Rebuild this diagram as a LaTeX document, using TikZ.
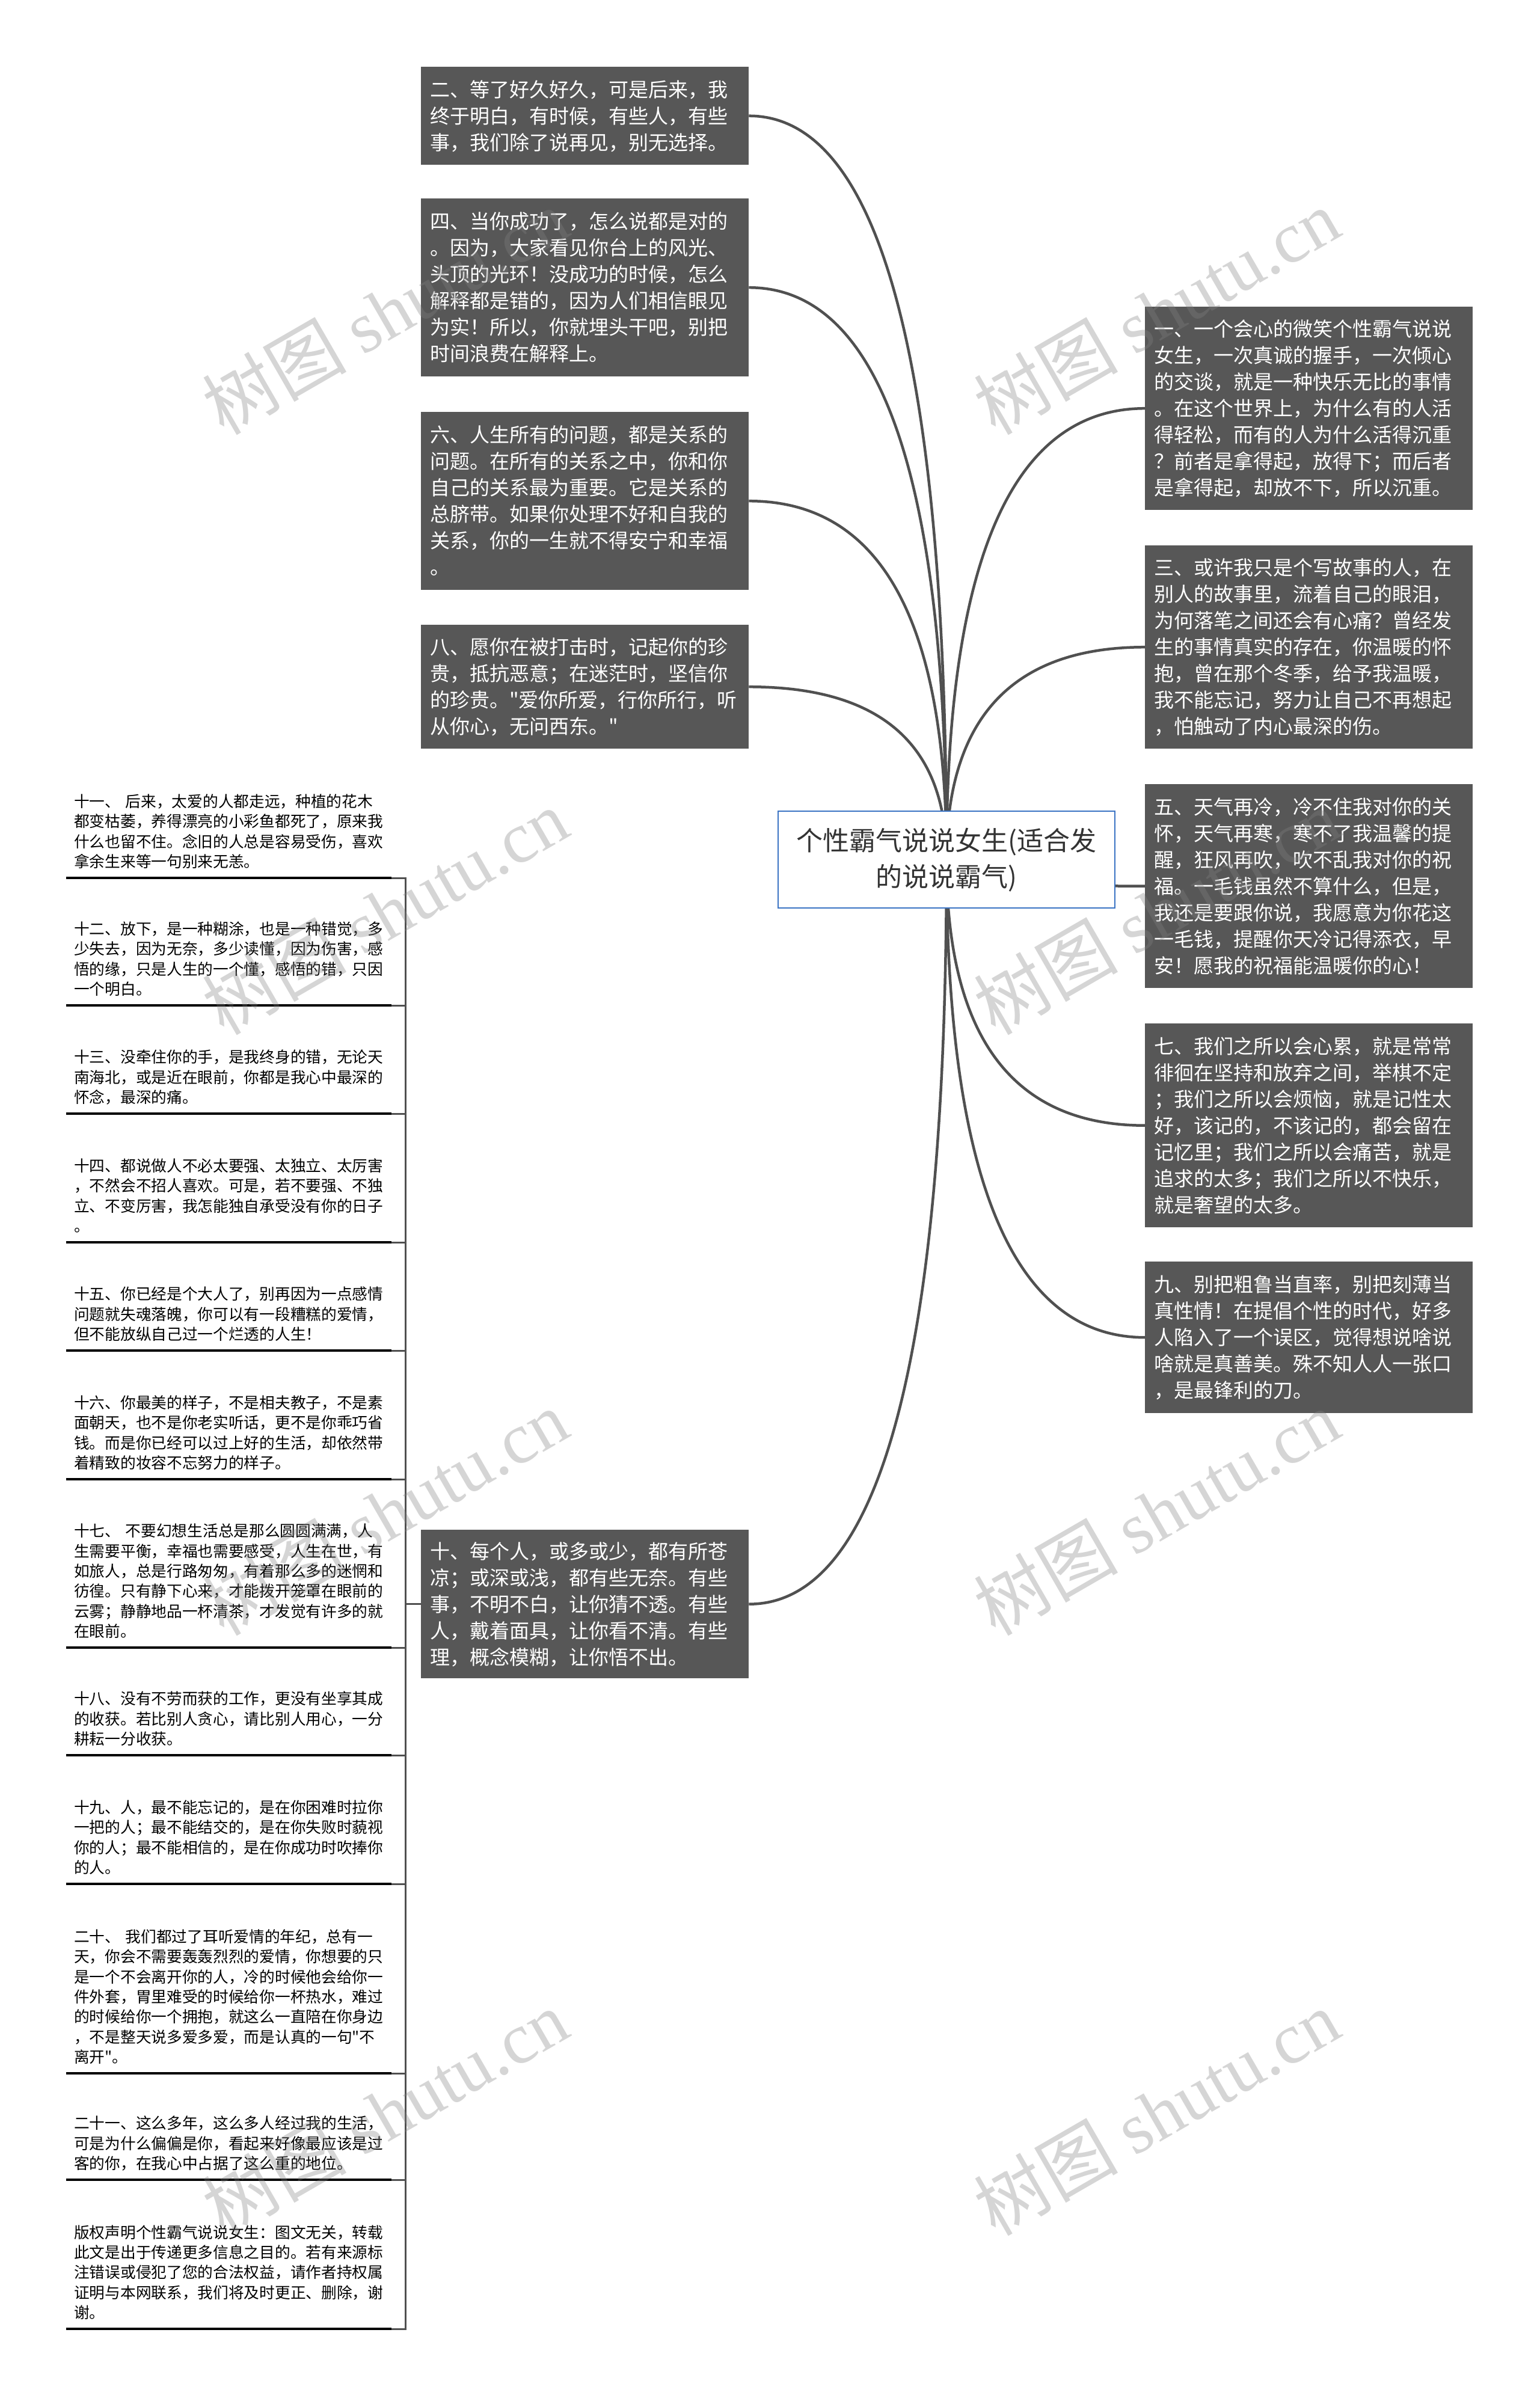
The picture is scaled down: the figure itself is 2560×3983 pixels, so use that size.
\documentclass[tikz,border=0pt]{standalone}
\usepackage{fontspec}
\newfontfamily\cjk{Noto Sans CJK SC}
\newfontfamily\wmfont{Liberation Serif}
\usetikzlibrary{calc}
\definecolor{boxgray}{RGB}{87,87,87}
\definecolor{linegray}{RGB}{80,80,80}
\definecolor{rootblue}{RGB}{58,115,195}
\definecolor{roottext}{RGB}{51,51,51}
\definecolor{wmgray}{RGB}{130,130,130}
\pgfdeclarelayer{bg}
\pgfdeclarelayer{fg}
\pgfsetlayers{bg,main,fg}
\setlength\parindent{0pt}
\newcommand\mystrut{\rule[-0.12em]{0pt}{1em}}
\begin{document}
\begin{tikzpicture}[x=1pt,y=-1pt,
  darkbox/.style={fill=boxgray, text=white, inner xsep=15pt, inner ysep=0pt, text width=515pt, minimum width=545pt, align=left, anchor=north west, font=\cjk\fontsize{33}{44}\selectfont},
  rootbox/.style={draw=rootblue, line width=2.5pt, fill=white, text=roottext, minimum width=560pt, minimum height=161pt, align=center, font=\cjk\fontsize{44}{60}\selectfont, inner sep=0pt},
  item/.style={text=black, inner xsep=13pt, inner ysep=14pt, text width=515pt, align=left, anchor=south west, font=\cjk\fontsize{25.7}{33.4}\selectfont},
  conn/.style={draw=linegray, line width=4.5pt},
  trunk/.style={draw=linegray, line width=3pt},
  uline/.style={draw=black, line width=3.5pt},
  wm/.style={text=wmgray, text opacity=0.33, rotate=30, font=\cjk\fontsize{120}{120}\selectfont, inner sep=0pt}
]
\useasboundingbox (0,0) rectangle (2560,3983);
\begin{pgfonlayer}{bg}
\fill[white] (0,0) rectangle (2560,3983);
\end{pgfonlayer}

% root
\node[rootbox] (root) at (1574,1429.5) {\mystrut 个性霸气说说女生(适合发\\\mystrut 的说说霸气)};

% left dark boxes
\node[darkbox, minimum height=163pt] (b2) at (700,111) {\mystrut 二、等了好久好久，可是后来，我\\\mystrut 终于明白，有时候，有些人，有些\\\mystrut 事，我们除了说再见，别无选择。};
\node[darkbox, minimum height=296pt] (b4) at (700,330) {\mystrut 四、当你成功了，怎么说都是对的\\\mystrut 。因为，大家看见你台上的风光、\\\mystrut 头顶的光环！没成功的时候，怎么\\\mystrut 解释都是错的，因为人们相信眼见\\\mystrut 为实！所以，你就埋头干吧，别把\\\mystrut 时间浪费在解释上。};
\node[darkbox, minimum height=296pt] (b6) at (700,685) {\mystrut 六、人生所有的问题，都是关系的\\\mystrut 问题。在所有的关系之中，你和你\\\mystrut 自己的关系最为重要。它是关系的\\\mystrut 总脐带。如果你处理不好和自我的\\\mystrut 关系，你的一生就不得安宁和幸福\\\mystrut 。};
\node[darkbox, minimum height=206pt] (b8) at (700,1039) {\mystrut 八、愿你在被打击时，记起你的珍\\\mystrut 贵，抵抗恶意；在迷茫时，坚信你\\\mystrut 的珍贵。"爱你所爱，行你所行，听\\\mystrut 从你心，无问西东。"};
\node[darkbox, minimum height=247pt] (b10) at (700,2544) {\mystrut 十、每个人，或多或少，都有所苍\\\mystrut 凉；或深或浅，都有些无奈。有些\\\mystrut 事，不明不白，让你猜不透。有些\\\mystrut 人，戴着面具，让你看不清。有些\\\mystrut 理，概念模糊，让你悟不出。};

% right dark boxes
\node[darkbox, minimum height=338pt] (b1) at (1904,510) {\mystrut 一、一个会心的微笑个性霸气说说\\\mystrut 女生，一次真诚的握手，一次倾心\\\mystrut 的交谈，就是一种快乐无比的事情\\\mystrut 。在这个世界上，为什么有的人活\\\mystrut 得轻松，而有的人为什么活得沉重\\\mystrut ？前者是拿得起，放得下；而后者\\\mystrut 是拿得起，却放不下，所以沉重。};
\node[darkbox, minimum height=338pt] (b3) at (1904,907) {\mystrut 三、或许我只是个写故事的人，在\\\mystrut 别人的故事里，流着自己的眼泪，\\\mystrut 为何落笔之间还会有心痛？曾经发\\\mystrut 生的事情真实的存在，你温暖的怀\\\mystrut 抱，曾在那个冬季，给予我温暖，\\\mystrut 我不能忘记，努力让自己不再想起\\\mystrut ，怕触动了内心最深的伤。};
\node[darkbox, minimum height=339pt] (b5) at (1904,1304) {\mystrut 五、天气再冷，冷不住我对你的关\\\mystrut 怀，天气再寒，寒不了我温馨的提\\\mystrut 醒，狂风再吹，吹不乱我对你的祝\\\mystrut 福。一毛钱虽然不算什么，但是，\\\mystrut 我还是要跟你说，我愿意为你花这\\\mystrut 一毛钱，提醒你天冷记得添衣，早\\\mystrut 安！愿我的祝福能温暖你的心！};
\node[darkbox, minimum height=339pt] (b7) at (1904,1702) {\mystrut 七、我们之所以会心累，就是常常\\\mystrut 徘徊在坚持和放弃之间，举棋不定\\\mystrut ；我们之所以会烦恼，就是记性太\\\mystrut 好，该记的，不该记的，都会留在\\\mystrut 记忆里；我们之所以会痛苦，就是\\\mystrut 追求的太多；我们之所以不快乐，\\\mystrut 就是奢望的太多。};
\node[darkbox, minimum height=252pt] (b9) at (1904,2098) {\mystrut 九、别把粗鲁当直率，别把刻薄当\\\mystrut 真性情！在提倡个性的时代，好多\\\mystrut 人陷入了一个误区，觉得想说啥说\\\mystrut 啥就是真善美。殊不知人人一张口\\\mystrut ，是最锋利的刀。};

% curved connectors from the root
\begin{pgfonlayer}{bg}
\foreach \b/\s in {b2/east,b4/east,b6/east,b8/east,b10/east,b1/west,b3/west,b5/west,b7/west,b9/west}
  \draw[conn] (root.center) .. controls ($(root.center)!0.6667!(root.center |- \b.\s)$) and ($(\b.\s)!0.6667!(root.center |- \b.\s)$) .. (\b.\s);
\end{pgfonlayer}

% left items (children of 十)
\node[item] (n11) at (110,1460) {\mystrut 十一、 后来，太爱的人都走远，种植的花木\\\mystrut 都变枯萎，养得漂亮的小彩鱼都死了，原来我\\\mystrut 什么也留不住。念旧的人总是容易受伤，喜欢\\\mystrut 拿余生来等一句别来无恙。};
\node[item] (n12) at (110,1672) {\mystrut 十二、放下，是一种糊涂，也是一种错觉，多\\\mystrut 少失去，因为无奈，多少读懂，因为伤害，感\\\mystrut 悟的缘，只是人生的一个懂，感悟的错，只因\\\mystrut 一个明白。};
\node[item] (n13) at (110,1852) {\mystrut 十三、没牵住你的手，是我终身的错，无论天\\\mystrut 南海北，或是近在眼前，你都是我心中最深的\\\mystrut 怀念，最深的痛。};
\node[item] (n14) at (110,2066) {\mystrut 十四、都说做人不必太要强、太独立、太厉害\\\mystrut ，不然会不招人喜欢。可是，若不要强、不独\\\mystrut 立、不变厉害，我怎能独自承受没有你的日子\\\mystrut 。};
\node[item] (n15) at (110,2246) {\mystrut 十五、你已经是个大人了，别再因为一点感情\\\mystrut 问题就失魂落魄，你可以有一段糟糕的爱情，\\\mystrut 但不能放纵自己过一个烂透的人生！};
\node[item] (n16) at (110,2460) {\mystrut 十六、你最美的样子，不是相夫教子，不是素\\\mystrut 面朝天，也不是你老实听话，更不是你乖巧省\\\mystrut 钱。而是你已经可以过上好的生活，却依然带\\\mystrut 着精致的妆容不忘努力的样子。};
\node[item] (n17) at (110,2740) {\mystrut 十七、 不要幻想生活总是那么圆圆满满，人\\\mystrut 生需要平衡，幸福也需要感受，人生在世，有\\\mystrut 如旅人，总是行路匆匆，有着那么多的迷惘和\\\mystrut 彷徨。只有静下心来，才能拨开笼罩在眼前的\\\mystrut 云雾；静静地品一杯清茶，才发觉有许多的就\\\mystrut 在眼前。};
\node[item] (n18) at (110,2919) {\mystrut 十八、没有不劳而获的工作，更没有坐享其成\\\mystrut 的收获。若比别人贪心，请比别人用心，一分\\\mystrut 耕耘一分收获。};
\node[item] (n19) at (110,3133) {\mystrut 十九、人，最不能忘记的，是在你困难时拉你\\\mystrut 一把的人；最不能结交的，是在你失败时藐视\\\mystrut 你的人；最不能相信的，是在你成功时吹捧你\\\mystrut 的人。};
\node[item] (n20) at (110,3448) {\mystrut 二十、 我们都过了耳听爱情的年纪，总有一\\\mystrut 天，你会不需要轰轰烈烈的爱情，你想要的只\\\mystrut 是一个不会离开你的人，冷的时候他会给你一\\\mystrut 件外套，胃里难受的时候给你一杯热水，难过\\\mystrut 的时候给你一个拥抱，就这么一直陪在你身边\\\mystrut ，不是整天说多爱多爱，而是认真的一句"不\\\mystrut 离开"。};
\node[item] (n21) at (110,3625) {\mystrut 二十一、这么多年，这么多人经过我的生活，\\\mystrut 可是为什么偏偏是你，看起来好像最应该是过\\\mystrut 客的你，在我心中占据了这么重的地位。};
\node[item] (n22) at (110,3873) {\mystrut 版权声明个性霸气说说女生：图文无关，转载\\\mystrut 此文是出于传递更多信息之目的。若有来源标\\\mystrut 注错误或侵犯了您的合法权益，请作者持权属\\\mystrut 证明与本网联系，我们将及时更正、删除，谢\\\mystrut 谢。};

% elbow connectors from 十 to its children, and underlines
\foreach \n in {n11,n12,n13,n14,n15,n16,n17,n18,n19,n20,n21,n22} {
  \draw[trunk] (b10.west) -- ++(-26,0) |- (\n.south east);
  \draw[uline] (\n.south west) -- (\n.south east);
}

% watermarks
\begin{pgfonlayer}{fg}
\foreach \wx/\wy/\wn in {640/518/w1,1923/518/w2,640/1516/w3,1923/1516/w4,640/2515/w5,1923/2515/w6,640/3513/w7,1923/3513/w8}
  \node[wm] (\wn) at (\wx,\wy) {树图 {\wmfont shutu.cn}};
\end{pgfonlayer}
\end{tikzpicture}
\end{document}
